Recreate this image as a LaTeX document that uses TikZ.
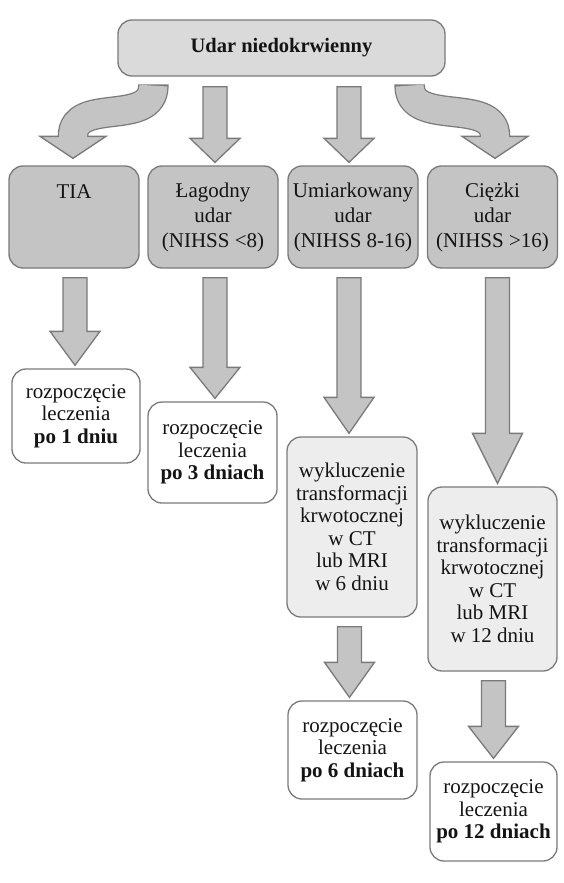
\documentclass[tikz,border=0pt]{standalone}
\usepackage{fontspec}
\setmainfont{Liberation Serif}
\usetikzlibrary{calc}
\definecolor{bord}{HTML}{7A7A7A}
\definecolor{arf}{HTML}{C4C4C4}
\definecolor{topf}{HTML}{DADADA}
\definecolor{wf}{HTML}{EDEDED}
\definecolor{txt}{HTML}{141414}
\tikzset{
  box/.style={draw=bord, line width=1.3pt, rounded corners=14pt, align=center, inner sep=0pt, text=txt, font=\fontsize{21}{22.5}\selectfont},
  topbox/.style={box, fill=topf, font=\bfseries\fontsize{20.5}{22.5}\selectfont, minimum width=327pt, minimum height=56pt},
  catbox/.style={box, fill=arf, minimum width=130pt, minimum height=102pt, font=\fontsize{21}{25}\selectfont},
  wbox/.style={box, fill=wf, minimum width=130pt},
  rbox/.style={box, fill=white, minimum width=128pt},
  blockar/.style={draw=bord, fill=arf, line width=1.3pt, line join=miter},
}
% from, to, dx, head length, top gap
\newcommand\barrow[5]{%
  \draw[blockar] let \p1=(#1.south), \p2=($(#2.north)+(#3,0)$) in
  (\x2-12pt,\y1-#5) -- (\x2+12pt,\y1-#5) -- (\x2+12pt,\y2+3pt+#4) -- (\x2+25pt,\y2+3pt+#4)
  -- (\x2,\y2+3pt) -- (\x2-25pt,\y2+3pt+#4) -- (\x2-12pt,\y2+3pt+#4) -- cycle;}
\begin{document}
\begin{tikzpicture}[x=1pt,y=-1pt]
\useasboundingbox (0,0) rectangle (563,883);
\fill[white] (0,0) rectangle (563,883);

\node[topbox] (top) at (281.5,48) {Udar niedokrwienny};

\node[catbox] (tia) at (74,217) {TIA\\\phantom{X}\\\phantom{X}};
\node[catbox] (lag) at (213,217) {Łagodny\\udar\\(NIHSS <8)};
\node[catbox] (umi) at (353,217) {Umiarkowany\\udar\\(NIHSS 8-16)};
\node[catbox] (cie) at (492.5,217) {Ciężki\\udar\\(NIHSS >16)};

\node[rbox, minimum height=94pt] (r1) at (76,416) {rozpoczęcie\\leczenia\\\textbf{po 1 dniu}};
\node[rbox, minimum width=129pt, minimum height=101pt] (r3) at (212.5,452.5) {rozpoczęcie\\leczenia\\\textbf{po 3 dniach}};
\node[wbox, minimum height=180pt] (w6) at (352,527) {wykluczenie\\transformacji\\krwotocznej\\w CT\\lub MRI\\w 6 dniu};
\node[rbox, minimum width=129pt, minimum height=98pt] (r6) at (352.5,750) {rozpoczęcie\\leczenia\\\textbf{po 6 dniach}};
\node[wbox, minimum width=129pt, minimum height=184pt] (w12) at (492.5,579) {wykluczenie\\transformacji\\krwotocznej\\w CT\\lub MRI\\w 12 dniu};
\node[rbox, minimum width=127pt, minimum height=99pt] (r12) at (493.5,811.5) {rozpoczęcie\\leczenia\\\textbf{po 12 dniach}};

% straight block arrows
\barrow{top}{lag}{2}{24pt}{10pt}
\barrow{top}{umi}{-4}{24pt}{10pt}
\barrow{tia}{r1}{-1}{34pt}{9pt}
\barrow{lag}{r3}{2.5}{31pt}{9pt}
\barrow{umi}{w6}{-3}{36pt}{9pt}
\barrow{cie}{w12}{5}{50pt}{9pt}
\barrow{w6}{r6}{-3}{35pt}{9pt}
\barrow{w12}{r12}{0}{32pt}{9pt}

% curved block arrows
\coordinate (ls) at ($(top.south west)+(36,9)$);
\coordinate (le) at ($(tia.north)+(-1,-29)$);
\coordinate (rs) at ($(top.south east)+(-36,9)$);
\coordinate (re) at ($(cie.north)+(2.5,-29)$);
\draw[bord, line width=30.6pt] ($(ls)+(0,-1.3)$) -- (ls) .. controls +(0,42) and +(0,-40) .. (le) -- ++(0,2);
\draw[blockar] ($(le)+(-33,0)$) -- ($(le)+(33,0)$) -- ($(le)+(0,22)$) -- cycle;
\draw[arf, line width=28pt] (ls) .. controls +(0,42) and +(0,-40) .. (le) -- ++(0,1.5);
\draw[bord, line width=30.6pt] ($(rs)+(0,-1.3)$) -- (rs) .. controls +(0,42) and +(0,-40) .. (re) -- ++(0,2);
\draw[blockar] ($(re)+(-33,0)$) -- ($(re)+(33,0)$) -- ($(re)+(0,22)$) -- cycle;
\draw[arf, line width=28pt] (rs) .. controls +(0,42) and +(0,-40) .. (re) -- ++(0,1.5);
\end{tikzpicture}
\end{document}
